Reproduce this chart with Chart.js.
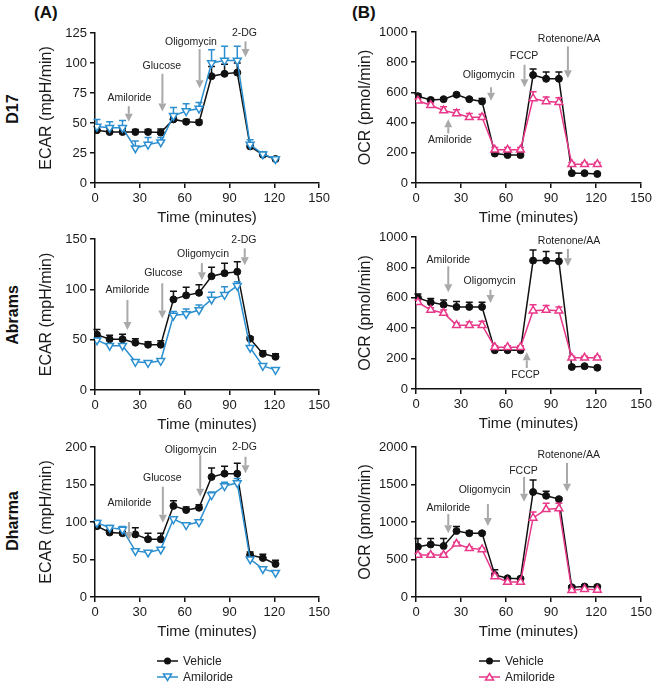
<!DOCTYPE html>
<html>
<head>
<meta charset="utf-8">
<script src="https://cdn.jsdelivr.net/npm/chart.js@4/dist/chart.umd.min.js"></script>
<style>
  body { margin: 0; width: 655px; height: 685px; overflow: hidden; background: #fff; position: relative;
         font-family: "Liberation Sans", Arial, sans-serif; color: #222; }
  canvas { position: absolute; }
  .tag { position: absolute; font-weight: bold; font-size: 17px; color: #111; }
  .row { position: absolute; font-weight: bold; font-size: 16px; color: #111; white-space: nowrap;
         transform: translate(-50%, -50%) rotate(-90deg); }
  .leg { position: absolute; font-size: 12px; line-height: 14px; color: #222; }
  .leg svg { position: absolute; }
</style>
</head>
<body>
<div class="tag" style="left:34px;top:3px">(A)</div>
<div class="tag" style="left:352px;top:3px">(B)</div>
<div class="row" style="left:13px;top:109px">D17</div>
<div class="row" style="left:13px;top:315px">Abrams</div>
<div class="row" style="left:13px;top:521px">Dharma</div>

<canvas id="a1" width="333" height="208" style="left:0;top:21px"></canvas>
<canvas id="b1" width="330" height="209" style="left:325px;top:20px"></canvas>
<canvas id="a2" width="333" height="209" style="left:0;top:227px"></canvas>
<canvas id="b2" width="330" height="210" style="left:325px;top:225px"></canvas>
<canvas id="a3" width="333" height="208" style="left:0;top:435px"></canvas>
<canvas id="b3" width="330" height="208" style="left:325px;top:435px"></canvas>

<div class="leg" style="left:157px;top:654px">
  <svg width="22" height="14" style="left:0;top:0"><line x1="0" y1="7" x2="21" y2="7" stroke="#111" stroke-width="1.5"/><circle cx="10.5" cy="7" r="3.5" fill="#111"/></svg>
  <span style="position:absolute;left:26px;top:0">Vehicle</span>
  <svg width="22" height="14" style="left:0;top:16px"><line x1="0" y1="7" x2="21" y2="7" stroke="#2b8fd0" stroke-width="1.5"/><polygon points="6.5,4 14.5,4 10.5,10.5" fill="#fff" stroke="#2b8fd0" stroke-width="1.5"/></svg>
  <span style="position:absolute;left:26px;top:16px;white-space:nowrap">Amiloride</span>
</div>
<div class="leg" style="left:479px;top:654px">
  <svg width="22" height="14" style="left:0;top:0"><line x1="0" y1="7" x2="21" y2="7" stroke="#111" stroke-width="1.5"/><circle cx="10.5" cy="7" r="3.5" fill="#111"/></svg>
  <span style="position:absolute;left:26px;top:0">Vehicle</span>
  <svg width="22" height="14" style="left:0;top:16px"><line x1="0" y1="7" x2="21" y2="7" stroke="#e8388a" stroke-width="1.5"/><polygon points="6.5,10 14.5,10 10.5,3.5" fill="#fff" stroke="#e8388a" stroke-width="1.5"/></svg>
  <span style="position:absolute;left:26px;top:16px;white-space:nowrap">Amiloride</span>
</div>

<script>
// measurement times (minutes)
const times = [1.3, 9.8, 18.4, 27, 35.5, 44, 52.5, 61, 69.6, 78, 86.7, 95.2, 103.8, 112.3, 120.8];
const timeTicks = [0, 30, 60, 90, 120, 150];

// D17
const d17EcarTicks = [0, 25, 50, 75, 100, 125];
const d17EcarVehicle = [44, 42.5, 42.5, 42.5, 42.5, 42, 53, 51, 50.5, 89, 91, 92, 30.5, 23.5, 20];
const d17EcarVehicleErr = [3, 3, 3, 2, 2, 3, 3, 2, 2, 8, 8, 8, 3, 2, 1];
const d17EcarAmiloride = [47, 46, 46, 29, 32, 34, 56, 60, 62, 100, 102, 102, 32, 24, 20];
const d17EcarAmilorideErr = [6, 5, 6, 6, 6, 4, 7, 6, 5, 11, 12, 12, 4, 2, 1];

const d17OcrTicks = [0, 200, 400, 600, 800, 1000];
const d17OcrVehicle = [575, 550, 555, 585, 555, 540, 195, 185, 185, 715, 690, 690, 65, 65, 60];
const d17OcrVehicleErr = [15, 10, 10, 10, 10, 20, 10, 10, 10, 40, 45, 45, 5, 5, 5];
const d17OcrAmiloride = [545, 515, 480, 460, 435, 435, 220, 220, 220, 560, 540, 535, 125, 125, 125];
const d17OcrAmilorideErr = [10, 15, 25, 25, 25, 20, 15, 15, 15, 45, 30, 30, 10, 10, 10];

// Abrams
const abramsEcarTicks = [0, 50, 100, 150];
const abramsEcarVehicle = [55, 50.5, 50.5, 47, 45, 45, 90, 94, 96.5, 113, 116, 117.5, 51, 36, 33];
const abramsEcarVehicleErr = [5, 4, 5, 4, 3, 4, 8, 8, 8, 9, 10, 10, 2, 3, 3];
const abramsEcarAmiloride = [49.5, 44, 44, 28, 27, 29, 74, 75.5, 79.5, 90, 94.5, 103.5, 42, 24, 20];
const abramsEcarAmilorideErr = [2, 2, 2, 2, 2, 2, 4, 5, 5, 7, 8, 4, 2, 1, 1];

const abramsOcrTicks = [0, 200, 400, 600, 800, 1000];
const abramsOcrVehicle = [600, 570, 555, 540, 540, 540, 255, 255, 255, 845, 845, 840, 145, 150, 140];
const abramsOcrVehicleErr = [25, 25, 30, 35, 30, 30, 10, 10, 10, 70, 60, 55, 10, 10, 10];
const abramsOcrAmiloride = [570, 520, 500, 420, 420, 420, 275, 275, 275, 515, 520, 515, 205, 205, 205];
const abramsOcrAmilorideErr = [15, 15, 20, 15, 20, 25, 10, 10, 10, 40, 30, 25, 10, 10, 10];

// Dharma
const dharmaEcarTicks = [0, 50, 100, 150, 200];
const dharmaEcarVehicle = [94.5, 86, 85, 83.5, 77, 77, 121.5, 116, 119, 160, 164.5, 164.5, 56, 52, 44];
const dharmaEcarVehicleErr = [5, 4, 8, 9, 8, 8, 7, 4, 4, 12, 10, 14, 4, 5, 5];
const dharmaEcarAmiloride = [99, 92.5, 90, 61.5, 59.5, 63.5, 104, 96, 100, 136, 148, 152, 50.5, 37.5, 32.5];
const dharmaEcarAmilorideErr = [3, 3, 4, 2, 2, 2, 2, 2, 2, 4, 5, 6, 2, 2, 2];

const dharmaOcrTicks = [0, 500, 1000, 1500, 2000];
const dharmaOcrVehicle = [670, 700, 680, 880, 850, 850, 295, 250, 245, 1400, 1350, 1305, 130, 140, 135];
const dharmaOcrVehicleErr = [110, 80, 100, 60, 30, 20, 70, 10, 10, 160, 60, 20, 20, 20, 20];
const dharmaOcrAmiloride = [560, 560, 560, 710, 650, 635, 275, 200, 200, 1055, 1170, 1180, 90, 105, 95];
const dharmaOcrAmilorideErr = [20, 20, 20, 20, 20, 20, 20, 20, 10, 80, 80, 70, 10, 10, 10];

// injection arrows: x, arrow tail -> tip (data units), label position
const d17EcarArrows = [
  {text: 'Amiloride', x: 22.6, from: 64, to: 51, lx: 23, ly: 70.5},
  {text: 'Glucose', x: 45.1, from: 91, to: 59.5, lx: 44.7, ly: 97},
  {text: 'Oligomycin', x: 70, from: 111.5, to: 79, lx: 64.2, ly: 117.5},
  {text: '2-DG', x: 100.7, from: 118, to: 105, lx: 100, ly: 125}
];
const d17OcrArrows = [
  {text: 'Amiloride', x: 21.5, from: 328, to: 423, lx: 22.6, ly: 284},
  {text: 'Oligomycin', x: 50, from: 634, to: 545, lx: 48.5, ly: 716},
  {text: 'FCCP', x: 72.3, from: 783, to: 634, lx: 72, ly: 838},
  {text: 'Rotenone/AA', x: 101.2, from: 905, to: 694, lx: 102, ly: 953}
];
const abramsEcarArrows = [
  {text: 'Amiloride', x: 21.7, from: 89.5, to: 59.5, lx: 21.7, ly: 99.3},
  {text: 'Glucose', x: 45, from: 106, to: 71, lx: 45.8, ly: 116},
  {text: 'Oligomycin', x: 71.5, from: 126, to: 109, lx: 72.3, ly: 134.8},
  {text: '2-DG', x: 100.2, from: 140.7, to: 124, lx: 99.6, ly: 149}
];
const abramsOcrArrows = [
  {text: 'Amiloride', x: 21.5, from: 807, to: 636, lx: 21.5, ly: 851},
  {text: 'Oligomycin', x: 49.6, from: 653, to: 566, lx: 49, ly: 708},
  {text: 'FCCP', x: 73.8, from: 138, to: 241, lx: 73, ly: 94},
  {text: 'Rotenone/AA', x: 101.2, from: 921, to: 807, lx: 102, ly: 971}
];
const dharmaEcarArrows = [
  {text: 'Amiloride', x: 22.8, from: 100, to: 76, lx: 23, ly: 125},
  {text: 'Glucose', x: 45.4, from: 147, to: 99, lx: 45, ly: 159},
  {text: 'Oligomycin', x: 70.4, from: 189, to: 133.6, lx: 64, ly: 196},
  {text: '2-DG', x: 100.7, from: 187, to: 165, lx: 100, ly: 200}
];
const dharmaOcrArrows = [
  {text: 'Amiloride', x: 21.5, from: 1106, to: 850, lx: 21.5, ly: 1181},
  {text: 'Oligomycin', x: 47.9, from: 1239, to: 947, lx: 45.7, ly: 1425},
  {text: 'FCCP', x: 72, from: 1602, to: 1270, lx: 71.6, ly: 1681},
  {text: 'Rotenone/AA', x: 100.6, from: 1788, to: 1403, lx: 101.7, ly: 1889}
];

const FONT = '"Liberation Sans", Arial, sans-serif';
const INK = '#111';
const BLUE = '#2b8fd0';
const PINK = '#e8388a';
const GREY = '#a9a9a9';
Chart.defaults.font.family = FONT;

// upward-only error bars, drawn under each dataset
const errorBars = {
  id: 'errorBars',
  beforeDatasetDraw(chart, args) {
    const ds = chart.data.datasets[args.index];
    if (!ds.errors) return;
    const y = chart.scales.y;
    const ctx = chart.ctx;
    ctx.save();
    ctx.strokeStyle = ds.borderColor;
    ctx.lineWidth = 1.5;
    args.meta.data.forEach((pt, i) => {
      const top = y.getPixelForValue(ds.data[i].y + ds.errors[i]);
      ctx.beginPath();
      ctx.moveTo(pt.x, pt.y);
      ctx.lineTo(pt.x, top);
      ctx.moveTo(pt.x - 3.5, top);
      ctx.lineTo(pt.x + 3.5, top);
      ctx.stroke();
    });
    ctx.restore();
  }
};

// grey injection arrows with labels
const arrows = {
  id: 'arrows',
  afterDatasetsDraw(chart, args, opts) {
    const {ctx, scales: {x, y}} = chart;
    ctx.save();
    opts.items.forEach(a => {
      const px = x.getPixelForValue(a.x);
      const y1 = y.getPixelForValue(a.from);
      const y2 = y.getPixelForValue(a.to);
      const dir = Math.sign(y2 - y1);
      const head = 8;
      ctx.strokeStyle = GREY;
      ctx.fillStyle = GREY;
      ctx.lineWidth = 2;
      ctx.beginPath();
      ctx.moveTo(px, y1);
      ctx.lineTo(px, y2 - dir * head);
      ctx.stroke();
      ctx.beginPath();
      ctx.moveTo(px - 4, y2 - dir * head);
      ctx.lineTo(px + 4, y2 - dir * head);
      ctx.lineTo(px, y2);
      ctx.closePath();
      ctx.fill();
      ctx.fillStyle = '#222';
      ctx.font = '10.5px ' + FONT;
      ctx.textAlign = 'center';
      ctx.textBaseline = 'middle';
      ctx.fillText(a.text, x.getPixelForValue(a.lx), y.getPixelForValue(a.ly));
    });
    ctx.restore();
  }
};

function series(vals) {
  return times.map((t, i) => ({x: t, y: vals[i]}));
}

function panel(id, cfg) {
  const left = cfg.column === 'A';
  const padLeft = left ? 30 : 24;
  const yWidth = (left ? 95 : 91) - padLeft;
  new Chart(document.getElementById(id), {
    type: 'line',
    data: {
      datasets: [
        {
          data: series(cfg.amiloride), errors: cfg.amilorideErr,
          borderColor: cfg.color, backgroundColor: '#fff', borderWidth: 1.5,
          pointStyle: 'triangle', pointRotation: left ? 180 : 0,
          pointRadius: 4.5, pointBorderWidth: 1.5, pointBackgroundColor: '#fff', pointBorderColor: cfg.color
        },
        {
          data: series(cfg.vehicle), errors: cfg.vehicleErr,
          borderColor: INK, backgroundColor: INK, borderWidth: 1.5,
          pointStyle: 'circle', pointRadius: 3.5, pointBorderWidth: 1,
          pointBackgroundColor: INK, pointBorderColor: INK
        }
      ]
    },
    options: {
      responsive: false,
      animation: false,
      devicePixelRatio: 1,
      layout: {padding: {left: padLeft, right: 12, top: 12, bottom: 0}},
      plugins: {
        legend: {display: false},
        tooltip: {enabled: false},
        arrows: {items: cfg.arrows}
      },
      scales: {
        x: {
          type: 'linear', min: 0, max: 150,
          afterBuildTicks: s => { s.ticks = timeTicks.map(v => ({value: v})); },
          afterFit: s => { s.height = 46; },
          border: {color: INK, width: 1.5},
          grid: {drawOnChartArea: false, color: INK, lineWidth: 1.5, tickLength: 5},
          ticks: {color: '#1a1a1a', font: {size: 13}, padding: 3, maxRotation: 0, callback: v => String(v)},
          title: {display: true, text: 'Time (minutes)', color: '#1a1a1a', font: {size: 15}, padding: {top: 0, bottom: 2}}
        },
        y: {
          min: 0, max: cfg.ticks[cfg.ticks.length - 1],
          afterBuildTicks: s => { s.ticks = cfg.ticks.map(v => ({value: v})); },
          afterFit: s => { s.width = yWidth; },
          border: {color: INK, width: 1.5},
          grid: {drawOnChartArea: false, color: INK, lineWidth: 1.5, tickLength: 5},
          ticks: {color: '#1a1a1a', font: {size: 13}, padding: 3, callback: v => String(v)},
          title: {display: true, text: cfg.title, color: '#1a1a1a', font: {size: 16}, padding: {top: 7, bottom: 0}}
        }
      }
    },
    plugins: [errorBars, arrows]
  });
}

panel('a1', {column: 'A', title: 'ECAR (mpH/min)', ticks: d17EcarTicks, color: BLUE,
  vehicle: d17EcarVehicle, vehicleErr: d17EcarVehicleErr,
  amiloride: d17EcarAmiloride, amilorideErr: d17EcarAmilorideErr, arrows: d17EcarArrows});
panel('b1', {column: 'B', title: 'OCR (pmol/min)', ticks: d17OcrTicks, color: PINK,
  vehicle: d17OcrVehicle, vehicleErr: d17OcrVehicleErr,
  amiloride: d17OcrAmiloride, amilorideErr: d17OcrAmilorideErr, arrows: d17OcrArrows});
panel('a2', {column: 'A', title: 'ECAR (mpH/min)', ticks: abramsEcarTicks, color: BLUE,
  vehicle: abramsEcarVehicle, vehicleErr: abramsEcarVehicleErr,
  amiloride: abramsEcarAmiloride, amilorideErr: abramsEcarAmilorideErr, arrows: abramsEcarArrows});
panel('b2', {column: 'B', title: 'OCR (pmol/min)', ticks: abramsOcrTicks, color: PINK,
  vehicle: abramsOcrVehicle, vehicleErr: abramsOcrVehicleErr,
  amiloride: abramsOcrAmiloride, amilorideErr: abramsOcrAmilorideErr, arrows: abramsOcrArrows});
panel('a3', {column: 'A', title: 'ECAR (mpH/min)', ticks: dharmaEcarTicks, color: BLUE,
  vehicle: dharmaEcarVehicle, vehicleErr: dharmaEcarVehicleErr,
  amiloride: dharmaEcarAmiloride, amilorideErr: dharmaEcarAmilorideErr, arrows: dharmaEcarArrows});
panel('b3', {column: 'B', title: 'OCR (pmol/min)', ticks: dharmaOcrTicks, color: PINK,
  vehicle: dharmaOcrVehicle, vehicleErr: dharmaOcrVehicleErr,
  amiloride: dharmaOcrAmiloride, amilorideErr: dharmaOcrAmilorideErr, arrows: dharmaOcrArrows});
</script>
</body>
</html>
